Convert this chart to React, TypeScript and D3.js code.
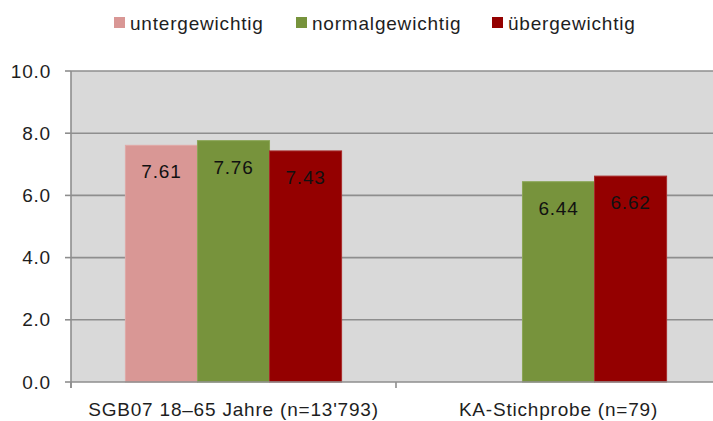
import React from "react";
import * as d3 from "d3";

const categories = ["SGB07 18–65 Jahre (n=13'793)", "KA-Stichprobe (n=79)"];
const seriesNames = ["untergewichtig", "normalgewichtig", "übergewichtig"];
const untergewichtig: (number | null)[] = [7.61, null];
const normalgewichtig: (number | null)[] = [7.76, 6.44];
const uebergewichtig: (number | null)[] = [7.43, 6.62];
const seriesColors = ["#d99795", "#77933c", "#940000"];
const seriesStroke = ["#e0a9a7", "#8aa555", "#a82a2a"];
const yTicks = [0, 2, 4, 6, 8, 10];
const legendX = [114, 296, 492];

const W = 713;
const H = 421;
const FONT = "'Liberation Sans', Arial, Helvetica, sans-serif";
const LS = "0.8px";

export default function App() {
  const values = [untergewichtig, normalgewichtig, uebergewichtig];
  const left = 71;
  const right = 721;
  const top = 71;
  const bottom = 382;

  const x = d3.scaleBand<string>().domain(categories).range([left, right]).paddingInner(0).paddingOuter(0);
  const xs = d3
    .scaleBand<string>()
    .domain(seriesNames)
    .range([0, x.bandwidth()])
    .paddingInner(0)
    .paddingOuter(0.755);
  const y = d3.scaleLinear().domain([0, 10]).range([bottom, top]);
  const fmt = d3.format(".1f");

  const boundaries = [left, ...categories.map((c) => (x(c) as number) + x.bandwidth())];

  return (
    <svg
      width={W}
      height={H}
      style={{ position: "absolute", left: 0, top: 0, background: "#fff" }}
      fontFamily={FONT}
    >
      <rect x={left} y={top} width={right - left} height={bottom - top} fill="#d9d9d9" />
      {yTicks.map((t) => (
        <g key={t}>
          {t > 0 && (
            <line x1={left} x2={right} y1={y(t)} y2={y(t)} stroke="#8e8e8e" strokeWidth={1.6} />
          )}
          <line x1={left - 6} x2={left} y1={y(t)} y2={y(t)} stroke="#8e8e8e" strokeWidth={1.6} />
          <text
            x={51}
            y={y(t) + 6.5}
            textAnchor="end"
            fontSize={19}
            fill="#1e1e1e"
            style={{ letterSpacing: LS }}
          >
            {fmt(t)}
          </text>
        </g>
      ))}
      {categories.map((c, ci) =>
        seriesNames.map((s, si) => {
          const v = values[si][ci];
          if (v == null) return null;
          const bx = (x(c) as number) + (xs(s) as number);
          const bw = xs.bandwidth();
          return (
            <g key={c + s}>
              <rect
                x={bx}
                y={y(v)}
                width={bw}
                height={bottom - y(v)}
                fill={seriesColors[si]}
                stroke={seriesStroke[si]}
                strokeWidth={1}
              />
              <text
                x={bx + bw / 2}
                y={y(v) + 33}
                textAnchor="middle"
                fontSize={19}
                fill="#111"
                style={{ letterSpacing: LS }}
              >
                {v.toFixed(2)}
              </text>
            </g>
          );
        })
      )}
      <line x1={left} x2={right} y1={bottom} y2={bottom} stroke="#8e8e8e" strokeWidth={1.6} />
      <line x1={left} x2={left} y1={top} y2={bottom + 6} stroke="#8e8e8e" strokeWidth={1.6} />
      {boundaries.map((b, i) => (
        <line key={i} x1={b} x2={b} y1={bottom} y2={bottom + 6} stroke="#8e8e8e" strokeWidth={1.6} />
      ))}
      {categories.map((c) => (
        <text
          key={c}
          x={(x(c) as number) + x.bandwidth() / 2}
          y={416}
          textAnchor="middle"
          fontSize={19}
          fill="#1e1e1e"
          style={{ letterSpacing: LS }}
        >
          {c}
        </text>
      ))}
      {seriesNames.map((s, i) => (
        <g key={s}>
          <rect x={legendX[i]} y={17} width={11} height={11} fill={seriesColors[i]} />
          <text x={legendX[i] + 16} y={30} fontSize={19} fill="#1e1e1e" style={{ letterSpacing: LS }}>
            {s}
          </text>
        </g>
      ))}
    </svg>
  );
}
